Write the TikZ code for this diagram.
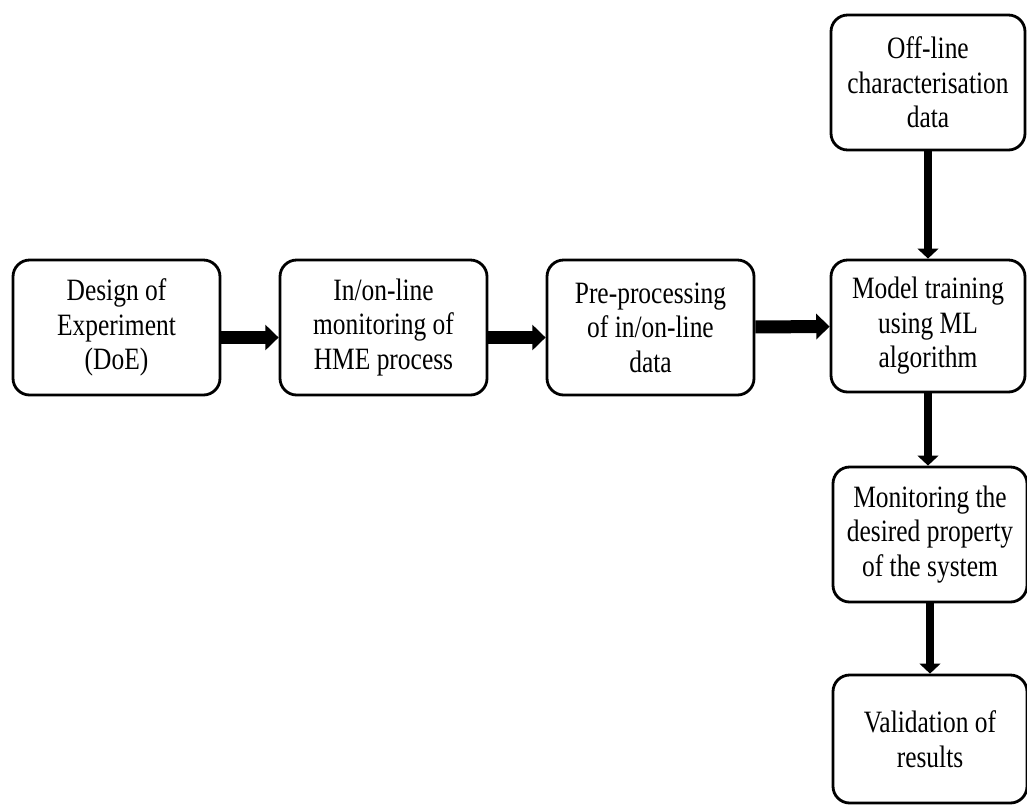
\documentclass[tikz,border=0pt]{standalone}
\usepackage{fontspec}
\setmainfont{Liberation Serif}[FakeStretch=0.82]
\usetikzlibrary{arrows.meta, positioning}

\begin{document}
\begin{tikzpicture}[
    box/.style={rectangle, draw, line width=2.4pt, rounded corners=0.5cm, minimum width=6.21cm, minimum height=4.05cm, align=center, font=\fontsize{26.5pt}{29.5pt}\selectfont},
    sidebox/.style={box, minimum width=5.82cm},
    harrow/.style={-{Triangle[length=0.4cm, width=0.75cm]}, line width=0.39cm},
    varrow/.style={-{Triangle[length=0.3cm, width=0.62cm]}, line width=0.24cm}
]
\useasboundingbox (0,0) rectangle (30.81,-24.18);

\node[box] (doe) at (3.495,-9.825) {Design of\\Experiment\\(DoE)};
\node[box] (inline) at (11.505,-9.825) {In/on-line\\monitoring of\\HME process};
\node[box] (prep) at (19.515,-9.825) {Pre-processing\\of in/on-line\\data};

\node[sidebox] (offline) at (27.84,-2.475) {Off-line\\characterisation\\data};
\node[sidebox, minimum height=3.96cm] (model) at (27.84,-9.78) {Model training\\using ML\\algorithm};
\node[sidebox] (monitor) at (27.9,-16.035) {Monitoring the\\desired property\\of the system};
\node[sidebox, minimum height=3.84cm] (valid) at (27.9,-22.17) {Validation of\\results};

\draw[harrow] ([yshift=-0.3cm]doe.east) -- ([yshift=-0.3cm]inline.west);
\draw[harrow] ([yshift=-0.3cm]inline.east) -- ([yshift=-0.3cm]prep.west);
\draw[harrow] (prep) -- (model);
\draw[varrow] (offline) -- (model);
\draw[varrow] (model.south) -- (monitor.north -| model.south);
\draw[varrow] (monitor) -- (valid);
\end{tikzpicture}
\end{document}
